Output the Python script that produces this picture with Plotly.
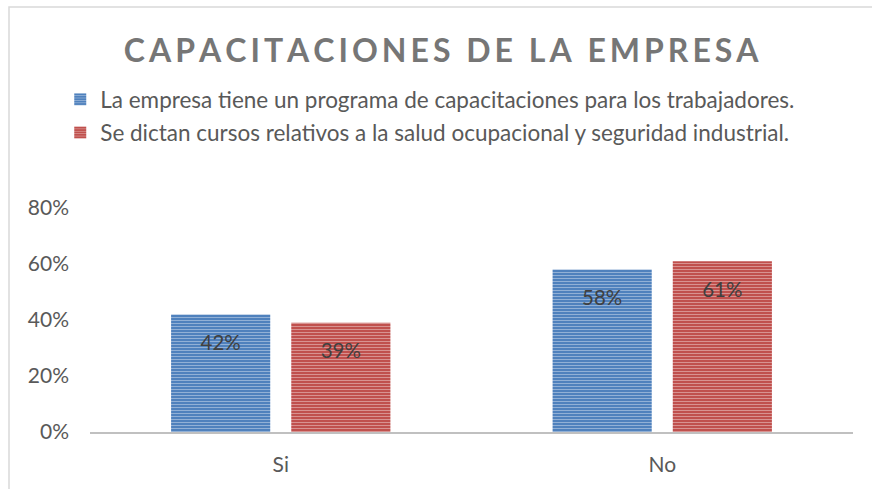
import plotly.graph_objects as go

categories = ["Si", "No"]
programa = [0.42, 0.58]
cursos = [0.39, 0.61]
series_names = [
    "La empresa tiene un programa de capacitaciones para los trabajadores.",
    "Se dictan cursos relativos a la salud ocupacional y seguridad industrial.",
]
tick_vals = [0, 0.2, 0.4, 0.6, 0.8]
tick_text = ["0%", "20%", "40%", "60%", "80%"]

FONT = "Lato"
GRAY = "#595959"


def spaced(s):
    # imitate the letter spacing of the title
    return "\u2009".join(s)


fig = go.Figure()
for name, vals, color in [(series_names[0], programa, "#4f81bd"),
                          (series_names[1], cursos, "#c0504d")]:
    fig.add_trace(go.Bar(
        x=categories, y=vals, name=name, legendgroup=name,
        marker=dict(color=color, line=dict(width=0),
                    pattern=dict(shape="-", fgcolor="rgba(255,255,255,0.75)",
                                 size=3, solidity=0.35, fillmode="overlay")),
        # small empty first line pushes the label a bit below the bar top
        text=[f"<span style='font-size:6px'>\u00a0</span><br>{v:.0%}" for v in vals],
        textposition="inside", insidetextanchor="end",
        textfont=dict(family=FONT, size=20.5, color="#404040"),
    ))

fig.update_layout(
    width=872, height=489,
    margin=dict(l=90, r=19, t=208, b=57),
    paper_bgcolor="white", plot_bgcolor="white",
    barmode="group", bargap=0.37, bargroupgap=0.175,
    title=dict(text="<b>" + spaced("CAPACITACIONES DE LA EMPRESA") + "</b>",
               x=0.506, xanchor="center", y=0.897, yanchor="middle",
               font=dict(family=FONT, size=32, color="#767676")),
    legend=dict(x=-0.039, xanchor="left", y=1.58, yanchor="top",
                font=dict(family=FONT, size=22.5, color=GRAY),
                itemwidth=30, tracegroupgap=1, bgcolor="rgba(0,0,0,0)"),
    showlegend=True,
    xaxis=dict(showline=True, linecolor="#c0c0c0", linewidth=2,
               ticks="", ticklabelstandoff=13,
               tickfont=dict(family=FONT, size=21, color=GRAY),
               showgrid=False),
    yaxis=dict(range=[0, 0.8], tickvals=tick_vals, ticktext=tick_text,
               showgrid=False, zeroline=False, showline=False,
               ticklabelstandoff=20,
               tickfont=dict(family=FONT, size=21, color=GRAY)),
    shapes=[dict(type="rect", xref="paper", yref="paper",
                 x0=-81 / 763, x1=1.2, y0=-0.5, y1=1 + 201 / 224,
                 line=dict(color="#d9d9d9", width=1.5), fillcolor="rgba(0,0,0,0)")],
)

fig.write_html("out.html", config={"displayModeBar": False},
               post_script="document.body.style.margin='0';")
